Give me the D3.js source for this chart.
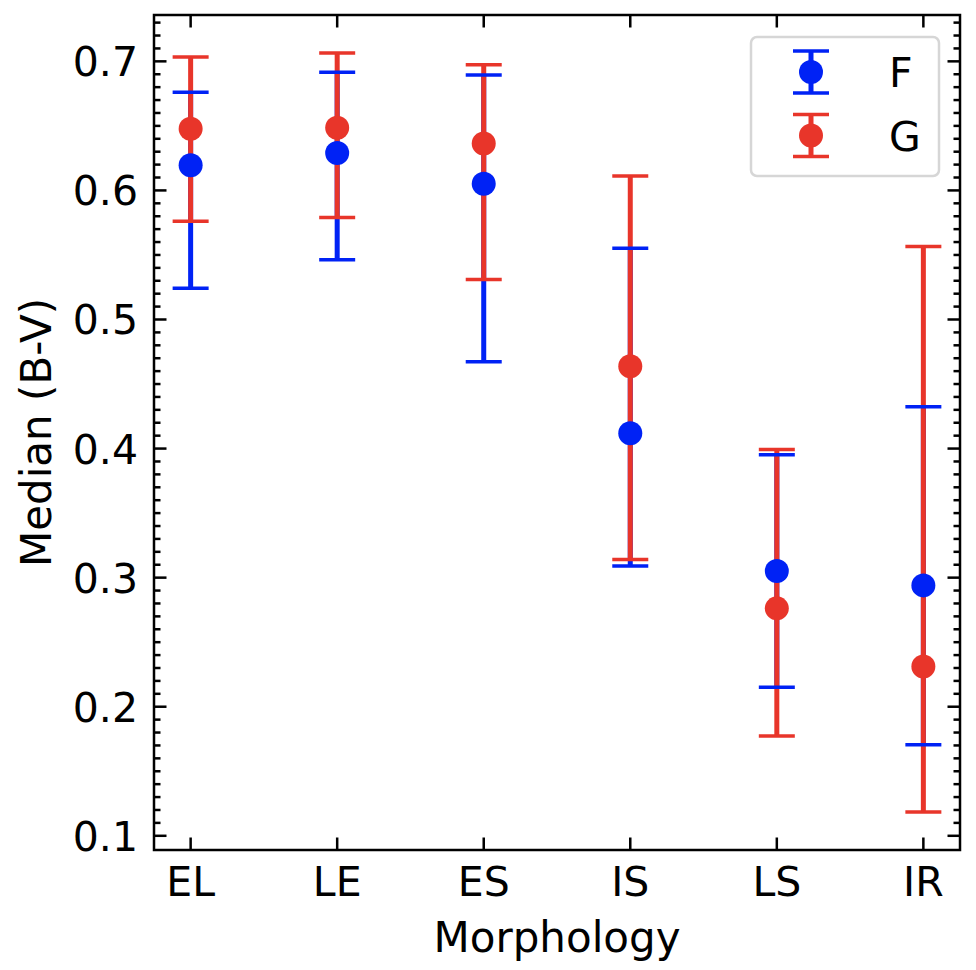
<!DOCTYPE html>
<html>
<head>
<meta charset="utf-8">
<script src="https://cdn.jsdelivr.net/npm/d3@7"></script>
<style>
  body { margin: 0; background: #fff; }
  text { font-family: "DejaVu Sans", sans-serif; }
</style>
</head>
<body>
<div id="chart"></div>
<script>
// morphology classes on the x axis
const categories = ['EL', 'LE', 'ES', 'IS', 'LS', 'IR'];

// sample F: median and the ends of its error bar
const fMedian = [0.6195, 0.629, 0.6051, 0.4119, 0.3052, 0.294];
const fLow    = [0.5243, 0.5463, 0.4672, 0.309, 0.2151, 0.1706];
const fHigh   = [0.676, 0.6915, 0.6894, 0.5551, 0.3953, 0.4324];

// sample G
const gMedian = [0.6477, 0.6485, 0.6364, 0.4638, 0.2762, 0.2311];
const gLow    = [0.5762, 0.579, 0.531, 0.314, 0.1774, 0.1184];
const gHigh   = [0.7034, 0.7065, 0.6974, 0.6112, 0.3992, 0.5566];

const yTicks = [0.1, 0.2, 0.3, 0.4, 0.5, 0.6, 0.7];

const config = {
    "width": 976,
    "height": 970,
    "left": 154,
    "right": 960,
    "top": 15,
    "bottom": 850,
    "radius": 12,
    "capHalf": 18,
    "barWidth": 5,
    "capWidth": 3.5,
    "fontSize": 41,
    "labelSize": 42
};

const series = [
    {name: 'F', color: '#0022f5', median: fMedian, low: fLow, high: fHigh},
    {name: 'G', color: '#e8352a', median: gMedian, low: gLow, high: gHigh}
];

drawChart('#chart');

function drawChart(selector) {
    let svg = d3.select(selector).append('svg')
        .attr('width', config.width)
        .attr('height', config.height);

    // x: category index, with a quarter step of padding each side
    let x = d3.scaleLinear()
        .domain([-0.25, categories.length - 0.75])
        .range([config.left, config.right]);

    // y: 5% margin around the data like matplotlib does
    let lo = d3.min(series, s => d3.min(s.low));
    let hi = d3.max(series, s => d3.max(s.high));
    let pad = (hi - lo) * 0.05;
    let y = d3.scaleLinear()
        .domain([lo - pad, hi + pad])
        .range([config.bottom, config.top]);

    let rows = [];
    series.forEach(s => {
        categories.forEach((c, i) => {
            rows.push({name: s.name, color: s.color, i: i,
                median: s.median[i], low: s.low[i], high: s.high[i]});
        });
    });

    // error bar lines first, then caps, then markers
    svg.append('g').selectAll('line')
        .data(rows)
        .enter().append('line')
        .attr('x1', d => x(d.i))
        .attr('x2', d => x(d.i))
        .attr('y1', d => y(d.low))
        .attr('y2', d => y(d.high))
        .attr('stroke', d => d.color)
        .attr('stroke-width', config.barWidth);

    let caps = svg.append('g');
    rows.forEach(d => {
        [d.low, d.high].forEach(v => {
            caps.append('line')
                .attr('x1', x(d.i) - config.capHalf)
                .attr('x2', x(d.i) + config.capHalf)
                .attr('y1', y(v))
                .attr('y2', y(v))
                .attr('stroke', d.color)
                .attr('stroke-width', config.capWidth);
        });
    });

    svg.append('g').selectAll('circle')
        .data(rows)
        .enter().append('circle')
        .attr('cx', d => x(d.i))
        .attr('cy', d => y(d.median))
        .attr('r', config.radius)
        .attr('fill', d => d.color);

    // axes, ticks pointing inwards on all sides
    let yMinor = d3.range(10, 74).map(v => v / 100).filter(v => v >= y.domain()[0] && v <= y.domain()[1]);

    let axes = svg.append('g')
        .attr('stroke', '#000')
        .attr('stroke-width', 2.5);

    categories.forEach((c, i) => {
        axes.append('line')
            .attr('x1', x(i)).attr('x2', x(i))
            .attr('y1', config.bottom).attr('y2', config.bottom - 12.5);
        axes.append('line')
            .attr('x1', x(i)).attr('x2', x(i))
            .attr('y1', config.top).attr('y2', config.top + 12.5);
    });

    yMinor.forEach(v => {
        let major = yTicks.some(t => Math.abs(t - v) < 1e-6);
        let len = major ? 12.5 : 6.5;
        axes.append('line')
            .attr('x1', config.left).attr('x2', config.left + len)
            .attr('y1', y(v)).attr('y2', y(v));
        axes.append('line')
            .attr('x1', config.right).attr('x2', config.right - len)
            .attr('y1', y(v)).attr('y2', y(v));
    });

    axes.append('rect')
        .attr('x', config.left)
        .attr('y', config.top)
        .attr('width', config.right - config.left)
        .attr('height', config.bottom - config.top)
        .attr('fill', 'none');

    // tick labels
    svg.append('g').selectAll('text')
        .data(yTicks)
        .enter().append('text')
        .attr('x', config.left - 16)
        .attr('y', d => y(d) + 15)
        .attr('text-anchor', 'end')
        .attr('font-size', config.fontSize)
        .text(d => d3.format('.1f')(d));

    svg.append('g').selectAll('text')
        .data(categories)
        .enter().append('text')
        .attr('x', (d, i) => x(i))
        .attr('y', 896)
        .attr('text-anchor', 'middle')
        .attr('font-size', config.fontSize)
        .text(d => d);

    svg.append('text')
        .attr('x', (config.left + config.right) / 2)
        .attr('y', 952)
        .attr('text-anchor', 'middle')
        .attr('font-size', config.labelSize)
        .text('Morphology');

    svg.append('text')
        .attr('transform', 'translate(51,' + (config.top + config.bottom) / 2 + ')rotate(-90)')
        .attr('text-anchor', 'middle')
        .attr('font-size', config.labelSize)
        .text('Median (B-V)');

    // legend
    let legend = svg.append('g');
    legend.append('rect')
        .attr('x', 751)
        .attr('y', 37)
        .attr('width', 188)
        .attr('height', 139)
        .attr('rx', 6)
        .attr('fill', 'rgba(255,255,255,0.8)')
        .attr('stroke', '#d6d6d6')
        .attr('stroke-width', 2.5);

    let entry = legend.selectAll('.entry')
        .data(series)
        .enter().append('g')
        .attr('class', 'entry')
        .attr('transform', (d, i) => 'translate(811,' + (72 + i * 63.5) + ')');

    entry.append('line')
        .attr('y1', -21).attr('y2', 21)
        .attr('stroke', d => d.color)
        .attr('stroke-width', config.barWidth);
    [-21, 21].forEach(v => {
        entry.append('line')
            .attr('x1', -config.capHalf).attr('x2', config.capHalf)
            .attr('y1', v).attr('y2', v)
            .attr('stroke', d => d.color)
            .attr('stroke-width', config.capWidth);
    });
    entry.append('circle')
        .attr('r', config.radius)
        .attr('fill', d => d.color);
    entry.append('text')
        .attr('x', 78)
        .attr('y', 15)
        .attr('font-size', config.fontSize)
        .text(d => d.name);
}
</script>
</body>
</html>
